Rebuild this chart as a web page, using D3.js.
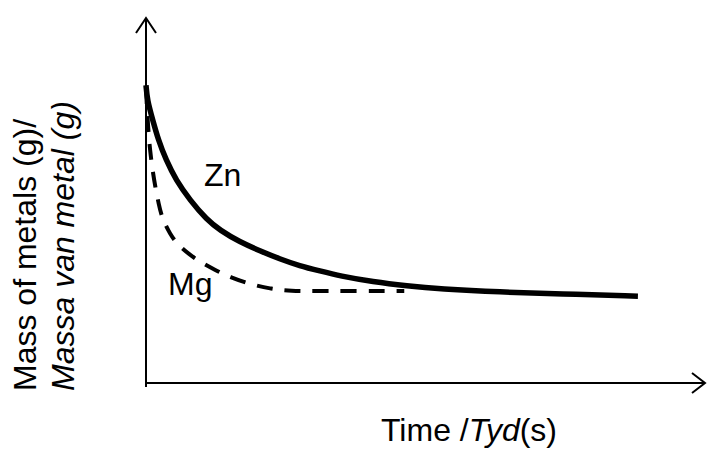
<!DOCTYPE html>
<meta charset="utf-8">
<script src="https://d3js.org/d3.v7.min.js"></script>
<style>
  body { margin: 0; background: #fff; }
  text { font-family: "Liberation Sans", Arial, sans-serif; fill: #000; }
</style>
<div id="my_dataviz"></div>
<script>

// sketch values (time and mass in arbitrary units 0-100)
var znTime = [0, 0.23, 1.20, 2.20, 3.58, 5.37, 7.87, 10.9, 13.2, 16.8, 20.4, 23.9, 27.5, 31.1, 34.7, 40.6, 46.7, 52.6, 63.3, 74.1, 88.0];
var znMass = [81.6, 77.5, 72.1, 66.6, 61.1, 55.6, 50.1, 44.7, 41.9, 38.6, 36.2, 34.0, 32.1, 30.7, 29.3, 27.7, 26.6, 25.8, 24.9, 24.4, 23.8];
var mgTime = [0, 0.18, 0.45, 0.72, 1.16, 1.70, 2.24, 2.86, 4.29, 5.72, 7.87, 9.66, 12.3, 15.0, 18.6, 22.2, 25.8, 31.1, 46.2];
var mgMass = [80.8, 74.8, 68.5, 63.8, 58.4, 53.4, 49.3, 45.2, 40.8, 37.8, 35.1, 33.2, 31.0, 29.0, 27.1, 25.8, 25.2, 25.2, 25.2];

var svg = d3.select("#my_dataviz")
  .append("svg")
    .attr("width", 707)
    .attr("height", 449);

var x = d3.scaleLinear().domain([0, 100]).range([146, 705]);
var y = d3.scaleLinear().domain([0, 100]).range([383, 18]);

// axes with open arrow heads
svg.append("line")
  .attr("x1", x(0)).attr("x2", x(0))
  .attr("y1", y(0) + 4).attr("y2", y(100))
  .attr("stroke", "#000").attr("stroke-width", 2);
svg.append("line")
  .attr("x1", x(0)).attr("x2", x(100))
  .attr("y1", y(0)).attr("y2", y(0))
  .attr("stroke", "#000").attr("stroke-width", 2);

svg.append("path")
  .attr("d", "M" + (x(0) - 10) + "," + (y(100) + 15) + "L" + x(0) + "," + y(100) + "L" + (x(0) + 10) + "," + (y(100) + 15))
  .attr("fill", "none").attr("stroke", "#000").attr("stroke-width", 2);
svg.append("path")
  .attr("d", "M" + (x(100) - 13) + "," + (y(0) - 10) + "L" + x(100) + "," + y(0) + "L" + (x(100) - 13) + "," + (y(0) + 10))
  .attr("fill", "none").attr("stroke", "#000").attr("stroke-width", 2);

var line = d3.line()
  .x(function(d) { return x(d[0]); })
  .y(function(d) { return y(d[1]); })
  .curve(d3.curveBasis);

// Mg dashed curve
svg.append("path")
  .attr("d", line(d3.zip(mgTime, mgMass)))
  .attr("fill", "none")
  .attr("stroke", "#000")
  .attr("stroke-width", 4)
  .attr("stroke-dasharray", "16,12");

// Zn solid curve
svg.append("path")
  .attr("d", line(d3.zip(znTime, znMass)))
  .attr("fill", "none")
  .attr("stroke", "#000")
  .attr("stroke-width", 5.5);

// curve labels
svg.append("text").attr("x", 204).attr("y", 186).style("font-size", "32px").text("Zn");
svg.append("text").attr("x", 168).attr("y", 295).style("font-size", "32px").text("Mg");

// x label
var xl = svg.append("text").attr("x", 381).attr("y", 441).style("font-size", "32px");
xl.append("tspan").text("Time /");
xl.append("tspan").style("font-style", "italic").text("Tyd");
xl.append("tspan").text("(s)");

// y label, two lines
svg.append("text")
  .attr("transform", "translate(36,391) rotate(-90)")
  .style("font-size", "32px")
  .text("Mass of metals (g)/");
svg.append("text")
  .attr("transform", "translate(74,391) rotate(-90)")
  .style("font-size", "32px")
  .style("font-style", "italic")
  .text("Massa van metal (g)");

</script>
